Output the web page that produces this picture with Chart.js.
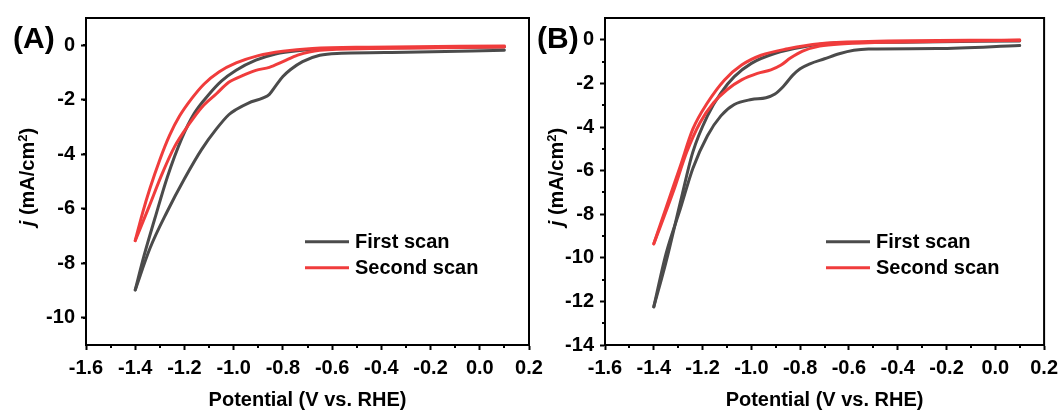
<!DOCTYPE html>
<html>

<head>
  <title>CV scans</title>
  <script src="https://cdn.jsdelivr.net/npm/chart.js@4.4.0/dist/chart.umd.min.js"></script>
  <style>
    body { margin: 0; background: #fff; font-family: 'Liberation Sans', Arial, sans-serif; }
    #wrap { position: relative; width: 1064px; height: 412px; overflow: hidden; }
    canvas { position: absolute; top: 0; }
    #chartA { left: 0; }
    #chartB { left: 532px; }
    .tag { position: absolute; font-weight: bold; font-size: 30px; line-height: 30px; color: #000; }
    .ytitle { position: absolute; font-weight: bold; font-size: 20px; white-space: nowrap; color: #000;
              transform: translate(-50%, -50%) rotate(-90deg); }
    .ytitle sup { font-size: 13px; vertical-align: 7px; line-height: 0; }
  </style>
</head>

<body>
  <div id="wrap">
    <canvas id="chartA" width="560" height="412"></canvas>
    <canvas id="chartB" width="532" height="412"></canvas>
    <div class="tag" style="left:13px; top:23px;">(A)</div>
    <div class="tag" style="left:537px; top:23px;">(B)</div>
    <div class="ytitle" style="left:27px; top:177px;"><i>j</i> (mA/cm<sup>2</sup>)</div>
    <div class="ytitle" style="left:556px; top:177px;"><i>j</i> (mA/cm<sup>2</sup>)</div>
  </div>

  <script>
    // Panel A: [potential V vs. RHE, current density mA/cm2]
    const aFirstFwd = [[0.1, -0.18], [-0.3, -0.26], [-0.58, -0.30], [-0.65, -0.37], [-0.72, -0.60], [-0.77, -0.90],
      [-0.80, -1.15], [-0.83, -1.50], [-0.855, -1.80], [-0.88, -1.93], [-0.94, -2.12], [-0.99, -2.36], [-1.02, -2.55],
      [-1.07, -3.07], [-1.13, -3.82], [-1.20, -4.90], [-1.27, -6.10], [-1.34, -7.45], [-1.40, -8.98]];
    const aFirstRev = [[-1.40, -8.98], [-1.365, -7.75], [-1.32, -6.35], [-1.27, -4.85], [-1.21, -3.40], [-1.16, -2.50],
      [-1.10, -1.80], [-1.05, -1.32], [-0.99, -0.92], [-0.91, -0.55], [-0.83, -0.32], [-0.74, -0.20], [-0.58, -0.12],
      [-0.3, -0.09], [0.1, -0.06]];
    const aSecondFwd = [[0.1, -0.06], [-0.44, -0.12], [-0.65, -0.18], [-0.74, -0.36], [-0.80, -0.60], [-0.855, -0.81],
      [-0.91, -0.92], [-0.96, -1.10], [-1.02, -1.36], [-1.07, -1.78], [-1.13, -2.28], [-1.18, -2.88], [-1.24, -3.72],
      [-1.29, -4.70], [-1.345, -5.95], [-1.40, -7.17]];
    const aSecondRev = [[-1.40, -7.17], [-1.37, -6.15], [-1.34, -5.25], [-1.30, -4.20], [-1.26, -3.30], [-1.22, -2.60],
      [-1.17, -1.95], [-1.12, -1.42], [-1.06, -0.98], [-0.99, -0.65], [-0.90, -0.38], [-0.80, -0.22], [-0.68, -0.12],
      [-0.45, -0.07], [0.1, -0.03]];

    // Panel B
    const bFirstFwd = [[0.1, -0.26], [-0.24, -0.40], [-0.52, -0.42], [-0.58, -0.48], [-0.64, -0.64], [-0.70, -0.87],
      [-0.76, -1.10], [-0.80, -1.33], [-0.83, -1.62], [-0.87, -2.15], [-0.905, -2.50], [-0.94, -2.66], [-1.0, -2.74],
      [-1.07, -2.97], [-1.125, -3.49], [-1.18, -4.40], [-1.24, -5.90], [-1.29, -7.71], [-1.35, -9.82], [-1.40, -12.25]];
    const bFirstRev = [[-1.40, -12.25], [-1.35, -10.2], [-1.29, -7.4], [-1.24, -5.15], [-1.18, -3.49], [-1.125, -2.44],
      [-1.07, -1.69], [-1.0, -1.08], [-0.905, -0.63], [-0.79, -0.33], [-0.66, -0.15], [-0.38, -0.11], [0.1, -0.05]];
    const bSecondFwd = [[0.1, -0.02], [-0.38, -0.10], [-0.62, -0.18], [-0.72, -0.29], [-0.79, -0.52], [-0.84, -0.84],
      [-0.88, -1.17], [-0.92, -1.38], [-0.975, -1.54], [-1.04, -1.84], [-1.10, -2.29], [-1.155, -2.89], [-1.21, -3.79],
      [-1.265, -5.15], [-1.32, -6.96], [-1.40, -9.36]];
    const bSecondRev = [[-1.40, -9.36], [-1.35, -7.71], [-1.29, -5.75], [-1.24, -4.10], [-1.18, -2.89], [-1.11, -1.84],
      [-1.04, -1.16], [-0.96, -0.71], [-0.85, -0.41], [-0.72, -0.18], [-0.52, -0.08], [0.1, -0.01]];

    const scanLabels = ['First scan', 'Second scan'];
    const scanColors = ['#4b4b4b', '#f03c3c'];

    const FONT = "'Liberation Sans', Arial, sans-serif";

    const toPts = arr => arr.map(p => ({ x: p[0], y: p[1] }));

    function branch(points, scan) {
      return {
        label: scanLabels[scan],
        data: toPts(points),
        showLine: true,
        borderColor: scanColors[scan],
        borderWidth: 3,
        borderCapStyle: 'round',
        pointRadius: 0,
        cubicInterpolationMode: 'monotone',
        order: 2 - scan
      };
    }

    // frame, minor ticks and in-plot legend
    const decor = {
      id: 'decor',
      afterDraw(chart, args, opts) {
        const { ctx, chartArea: a, scales: { x, y } } = chart;
        ctx.save();
        ctx.strokeStyle = '#000';
        ctx.lineWidth = 2;
        ctx.strokeRect(a.left, a.top, a.right - a.left, a.bottom - a.top);
        ctx.beginPath();
        for (let v = -1.5; v < 0.2; v += 0.2) {
          const px = Math.round(x.getPixelForValue(v));
          ctx.moveTo(px, a.bottom);
          ctx.lineTo(px, a.bottom + 3);
        }
        for (let v = opts.yMin + 1; v < opts.yMax; v += 2) {
          const py = Math.round(y.getPixelForValue(v));
          ctx.moveTo(a.left, py);
          ctx.lineTo(a.left - 3, py);
        }
        ctx.stroke();

        ctx.font = 'bold 20px ' + FONT;
        ctx.textBaseline = 'alphabetic';
        ctx.fillStyle = '#000';
        ctx.lineWidth = 3;
        opts.rows.forEach((rowY, i) => {
          ctx.strokeStyle = scanColors[i];
          ctx.beginPath();
          ctx.moveTo(opts.lineX, rowY);
          ctx.lineTo(opts.lineX + 44, rowY);
          ctx.stroke();
          ctx.fillText(scanLabels[i], opts.lineX + 50, rowY + 6.5);
        });
        ctx.restore();
      }
    };

    function makeChart(id, sets, yMin, yMax, yWidth, padRight, legendX) {
      return new Chart(document.getElementById(id), {
        type: 'scatter',
        data: { datasets: sets },
        plugins: [decor],
        options: {
          responsive: false,
          animation: false,
          layout: { padding: { top: 14, right: padRight, left: 0, bottom: 0 } },
          plugins: {
            legend: { display: false },
            tooltip: { enabled: false },
            decor: { yMin: yMin, yMax: yMax, lineX: legendX, rows: [241.7, 267.7] }
          },
          scales: {
            x: {
              type: 'linear',
              min: -1.6,
              max: 0.2,
              afterFit: s => { s.height = 67; },
              ticks: {
                stepSize: 0.2,
                padding: 6,
                color: '#000',
                font: { family: FONT, size: 20, weight: 'bold' },
                callback: v => v.toFixed(1)
              },
              grid: { drawOnChartArea: false, tickLength: 5, tickWidth: 2, tickColor: '#000' },
              border: { display: true, color: '#000', width: 2 },
              title: {
                display: true,
                text: 'Potential (V vs. RHE)',
                color: '#000',
                font: { family: FONT, size: 20, weight: 'bold' },
                padding: { top: 0, bottom: 0 }
              }
            },
            y: {
              type: 'linear',
              min: yMin,
              max: yMax,
              afterFit: s => { s.width = yWidth; },
              afterBuildTicks: s => { s.ticks = s.ticks.filter(t => Math.round(t.value) % 2 === 0); },
              ticks: {
                stepSize: 1,
                padding: 6,
                color: '#000',
                font: { family: FONT, size: 20, weight: 'bold' }
              },
              grid: { drawOnChartArea: false, tickLength: 5, tickWidth: 2, tickColor: '#000' },
              border: { display: true, color: '#000', width: 2 }
            }
          }
        }
      });
    }

    makeChart('chartA', [
      branch(aFirstFwd, 0), branch(aFirstRev, 0),
      branch(aSecondFwd, 1), branch(aSecondRev, 1)
    ], -11, 1, 86, 31, 305);

    makeChart('chartB', [
      branch(bFirstFwd, 0), branch(bFirstRev, 0),
      branch(bSecondFwd, 1), branch(bSecondRev, 1)
    ], -14, 1, 73, 18, 294);
  </script>
</body>

</html>
